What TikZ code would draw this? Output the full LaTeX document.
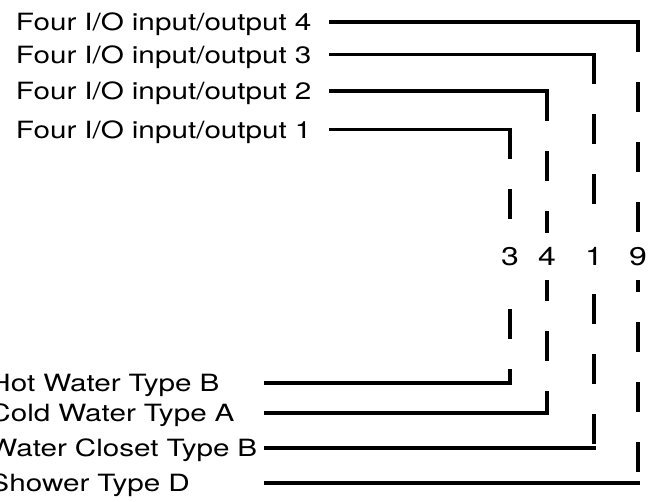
\documentclass[tikz,border=0pt]{standalone}
\usepackage{fontspec}
\newfontfamily\lblfont{TeX Gyre Heros}[FakeStretch=1.25]

\tikzset{every picture/.style={line width=0.75pt}}
\tikzset{
  lbl/.style={anchor=west, inner sep=0pt, align=left, font=\lblfont\fontsize{17.8}{21}\selectfont, text height=17.2pt, text depth=4.4pt},
  toplbl/.style={lbl, text width=236pt},
  botlbl/.style={lbl, text width=207pt},
  pin/.style={fill=white, inner xsep=1.5pt, inner ysep=0pt, minimum height=35pt, font=\lblfont\fontsize{19.2}{22}\selectfont},
  wire/.style={line width=2.85pt, line cap=rect},
  dashwire/.style={line width=2.85pt, dash pattern=on 22.5pt off 22.5pt},
}

\begin{document}
\begin{tikzpicture}[x=0.75pt,y=0.75pt,yscale=-1,xscale=1]
\useasboundingbox (0,0) rectangle (654,502);

% Text Node
\draw (15.5,22) node [toplbl] (io4) {Four I/O input/output 4};
% Text Node
\draw (15.5,54.5) node [toplbl] (io3) {Four I/O input/output 3};
% Text Node
\draw (15.5,91) node [toplbl] (io2) {Four I/O input/output 2};
% Text Node
\draw (15.5,129.5) node [toplbl] (io1) {Four I/O input/output 1};

% Text Node
\draw (-11,383) node [botlbl] (hw) {Hot Water Type B};
% Text Node
\draw (-11,413) node [botlbl] (cw) {Cold Water Type A};
% Text Node
\draw (-11,448) node [botlbl] (wc) {Water Closet Type B};
% Text Node
\draw (-11,483) node [botlbl] (sh) {Shower Type D};

%Corners
\coordinate (t3) at (510,129.5);
\coordinate (b3) at (510,383);
\coordinate (t4) at (547,91);
\coordinate (b4) at (547,413);
\coordinate (t1) at (594,54.5);
\coordinate (b1) at (594,448);
\coordinate (t9) at (638,22);
\coordinate (b9) at (638,483);

%Straight Lines
\draw [wire] (io1.east) -- (t3);
\draw [dashwire] (t3) -- (b3);
\draw [wire] (b3) -- (hw.east);
%Straight Lines
\draw [wire] (io2.east) -- (t4);
\draw [dashwire] (t4) -- (b4);
\draw [wire] (b4) -- (cw.east);
%Straight Lines
\draw [wire] (io3.east) -- (t1);
\draw [dashwire] (t1) -- (b1);
\draw [wire] (b1) -- (wc.east);
%Straight Lines
\draw [wire] (io4.east) -- (t9);
\draw [dashwire] (t9) -- (b9);
\draw [wire] (b9) -- (sh.east);

% Text Node
\draw (510,256.5) node [pin] (p3) {3};
% Text Node
\draw (547,256.5) node [pin] (p4) {4};
% Text Node
\draw (594,256.5) node [pin] (p1) {1};
% Text Node
\draw (638,256.5) node [pin] (p9) {9};

\end{tikzpicture}
\end{document}
